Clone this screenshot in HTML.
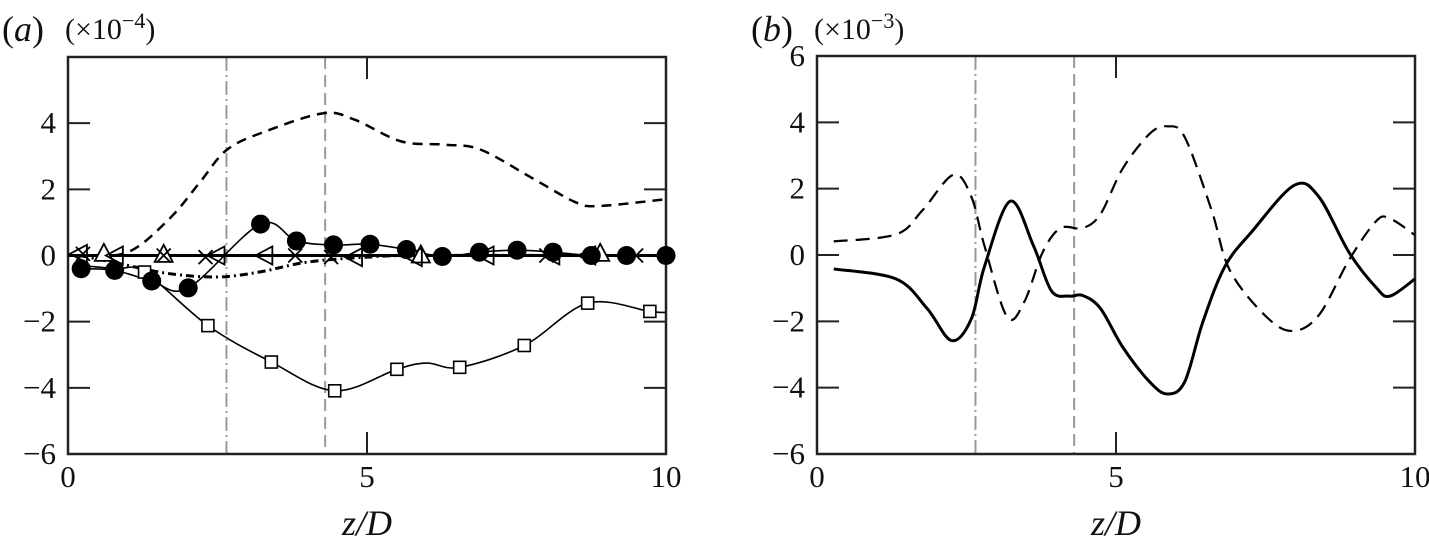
<!DOCTYPE html>
<html><head><meta charset="utf-8"><style>
html,body{margin:0;padding:0;background:#fff;}
svg{display:block;font-family:"Liberation Serif","DejaVu Serif",serif;}
</style></head><body>
<svg id="fig" width="1429" height="551" viewBox="0 0 1429 551"></svg>
<script>
// ---- data ----
const xTicks=[0,5,10];
const yTicks=[-6,-4,-2,0,2,4,6];
const vLines=[2.65,4.3];
// panel a
const aDashZ=[0.2,1.0,1.69,2.2,2.66,3.3,4.27,4.8,5.57,6.3,6.9,7.8,8.5,8.9,10];
const aDashV=[0.0,0.1,1.1,2.2,3.2,3.75,4.3,4.1,3.45,3.35,3.2,2.3,1.6,1.5,1.7];
const aSqLineZ=[0.2,0.8,1.28,2.34,3.4,4.46,5.5,6.0,6.55,7.63,8.69,9.73,10];
const aSqLineV=[-0.3,-0.4,-0.5,-2.12,-3.22,-4.09,-3.44,-3.25,-3.38,-2.72,-1.44,-1.69,-1.72];
const aSqMarkZ=[1.28,2.34,3.4,4.46,5.5,6.55,7.63,8.69,9.73];
const aSqMarkV=[-0.5,-2.12,-3.22,-4.09,-3.44,-3.38,-2.72,-1.44,-1.69];
const aCircZ=[0.22,0.78,1.4,2.01,3.22,3.82,4.44,5.05,5.66,6.26,6.88,7.51,8.11,8.75,9.34,10];
const aCircV=[-0.4,-0.45,-0.77,-0.98,0.95,0.44,0.32,0.34,0.18,-0.03,0.1,0.16,0.1,0,0,0];
const aDDZ=[0.2,1.0,1.7,2.5,3.2,4.0,5.0,6.0,10];
const aDDV=[0,-0.3,-0.55,-0.65,-0.5,-0.2,-0.05,0,0];
const aTriZ=[0.6,1.6,5.9,8.9];
const aTriV=[0.05,0.02,0.0,0.05];
const aLtriZ=[0.2,0.8,2.5,3.3,4.8,5.8,7.0,8.1,8.7];
const aLtriV=[0.05,0.0,0.0,0.0,-0.05,-0.05,0,0,0];
const aCrossZ=[0.25,1.6,2.3,3.8,4.4,8.0,9.5];
const aCrossV=[0.05,0,-0.05,0,-0.05,0,0];
// panel b
const bSolidZ=[0.28,1.32,1.84,2.25,2.58,2.8,3.23,3.62,3.92,4.22,4.44,4.74,5.11,5.56,5.86,6.15,6.45,6.82,7.27,7.98,8.39,8.9,9.35,9.58,10];
const bSolidV=[-0.42,-0.72,-1.61,-2.58,-1.93,-0.35,1.62,0.28,-1.08,-1.24,-1.22,-1.61,-2.77,-3.82,-4.19,-3.82,-2.03,-0.35,0.7,2.1,1.76,0.07,-0.98,-1.24,-0.72];
const bDashZ=[0.28,1.32,1.76,2.28,2.58,2.8,3.18,3.47,3.77,4.07,4.44,4.74,5.11,5.56,5.86,6.15,6.6,6.9,7.49,7.94,8.39,8.9,9.35,9.58,10];
const bDashV=[0.41,0.62,1.34,2.42,1.76,0.28,-1.87,-1.4,0.07,0.81,0.81,1.23,2.6,3.65,3.88,3.55,1.34,-0.45,-1.82,-2.29,-1.82,-0.14,1.02,1.1,0.6];

const NS="http://www.w3.org/2000/svg";
const svg=document.getElementById('fig');
function mk(tag,attrs,parent){const e=document.createElementNS(NS,tag);for(const k in attrs)e.setAttribute(k,attrs[k]);(parent||svg).appendChild(e);return e;}

function smooth(pts){
  let d="M"+pts[0][0]+","+pts[0][1];
  for(let i=0;i<pts.length-1;i++){
    const p0=pts[i-1]||pts[i],p1=pts[i],p2=pts[i+1],p3=pts[i+2]||p2;
    const c1=[p1[0]+(p2[0]-p0[0])/6,p1[1]+(p2[1]-p0[1])/6];
    const c2=[p2[0]-(p3[0]-p1[0])/6,p2[1]-(p3[1]-p1[1])/6];
    d+=" C"+c1[0]+","+c1[1]+" "+c2[0]+","+c2[1]+" "+p2[0]+","+p2[1];
  }
  return d;
}

function panel(x0,x1,y0,y1,label,expo,name){
  const g=mk('g',{});
  
  
  const sx=z=>x0+(x1-x0)*z/10;
  const sy=v=>y1-(y1-y0)*(v+6)/12;
  vLines.forEach((z,i)=>{
    const l=mk('line',{x1:sx(z),x2:sx(z),y1:y0,y2:y1,stroke:'#999','stroke-width':2,'stroke-dasharray':i==0?'14,4,2,4':'12,6'},g);
    
    
  });
  xTicks.forEach(t=>{
    if(t===5){mk('line',{x1:sx(t),x2:sx(t),y1:y1,y2:y1-22,stroke:'#222','stroke-width':2},g);mk('line',{x1:sx(t),x2:sx(t),y1:y0,y2:y0+22,stroke:'#222','stroke-width':2},g);}
    const tx=mk('text',{x:sx(t),y:y1+33,'font-size':31,'text-anchor':'middle',fill:'#111'},g);tx.textContent=t;
    
    
  });
  yTicks.forEach(t=>{
    if(t>-6&&t<6){mk('line',{x1:x0,x2:x0+22,y1:sy(t),y2:sy(t),stroke:'#222','stroke-width':2},g);mk('line',{x1:x1,x2:x1-22,y1:sy(t),y2:sy(t),stroke:'#222','stroke-width':2},g);}
    if(t===6&&name==='panel-a')return;
    const tx=mk('text',{x:x0-12,y:sy(t)+10,'font-size':31,'text-anchor':'end',fill:'#111'},g);tx.textContent=(t<0?'\u2212'+(-t):t);
    
    
  });
  const fr=mk('rect',{x:x0,y:y0,width:x1-x0,height:y1-y0,fill:'none',stroke:'#222','stroke-width':2.5},g);
  
  
  const pl=mk('text',{x:x0-66,y:41,'font-size':36,fill:'#111'},g);
  pl.innerHTML='(<tspan font-style="italic">'+label+'</tspan>)';
  
  
  const ex=mk('text',{x:x0-3,y:39,'font-size':30,fill:'#111'},g);
  ex.innerHTML='(×10<tspan dy="-11" font-size="22">\u2212'+expo+'</tspan><tspan dy="11">)</tspan>';
  
  
  const xl=mk('text',{x:(x0+x1)/2,y:535,'font-size':36,'font-style':'italic','text-anchor':'middle',fill:'#111'},g);
  xl.textContent='z/D';
  
  
  return {g,sx,sy};
}
function curve(P,Z,V,attrs,name,sm){
  const pts=Z.map((z,i)=>[P.sx(z),P.sy(V[i])]);
  const a=Object.assign({fill:'none',stroke:'#000',d:sm?smooth(pts):'M'+pts.map(p=>p.join(',')).join(' L')},attrs);
  const p=mk('path',a,P.g);
  
  
}

const A=panel(68,666,57,454,'a','4','panel-a');
curve(A,aDDZ,aDDV,{'stroke-width':3,'stroke-dasharray':'8,4,2,4'},'series-dashdot',true);
curve(A,[0,10],[0,0],{'stroke-width':3},'series-zero-line',false);
curve(A,aDashZ,aDashV,{'stroke-width':2.5,'stroke-dasharray':'10,7'},'series-dashed',true);
curve(A,aSqLineZ,aSqLineV,{'stroke-width':1.6},'series-square-line',true);
curve(A,aCircZ,aCircV,{'stroke-width':1.6},'series-circle-line',true);
aSqMarkZ.forEach((z,i)=>{
  const r=mk('rect',{x:A.sx(z)-6,y:A.sy(aSqMarkV[i])-6,width:12,height:12,fill:'#fff',stroke:'#000','stroke-width':1.6},A.g);
  
  
});
aTriZ.forEach((z,i)=>{
  const x=A.sx(z),y=A.sy(aTriV[i]);
  const t=mk('polygon',{points:`${x},${y-10} ${x-9},${y+7} ${x+9},${y+7}`,fill:'#fff',stroke:'#000','stroke-width':1.8},A.g);
  
  
});
aLtriZ.forEach((z,i)=>{
  const x=A.sx(z),y=A.sy(aLtriV[i]);
  const t=mk('polygon',{points:`${x-10},${y} ${x+7},${y-9} ${x+7},${y+9}`,fill:'none',stroke:'#000','stroke-width':1.8},A.g);
  
  
});
aCrossZ.forEach((z,i)=>{
  const x=A.sx(z),y=A.sy(aCrossV[i]);
  const t=mk('path',{d:`M${x-7},${y-7} L${x+7},${y+7} M${x-7},${y+7} L${x+7},${y-7}`,stroke:'#000','stroke-width':1.8},A.g);
  
  
});
aCircZ.forEach((z,i)=>{
  const c=mk('circle',{cx:A.sx(z),cy:A.sy(aCircV[i]),r:9.5,fill:'#000'},A.g);
  
  
});

const B=panel(817,1415,56,454,'b','3','panel-b');
curve(B,bDashZ,bDashV,{'stroke-width':2.2,'stroke-dasharray':'14,8'},'series-dashed',true);
curve(B,bSolidZ,bSolidV,{'stroke-width':3},'series-solid',true);
</script>
</body></html>
